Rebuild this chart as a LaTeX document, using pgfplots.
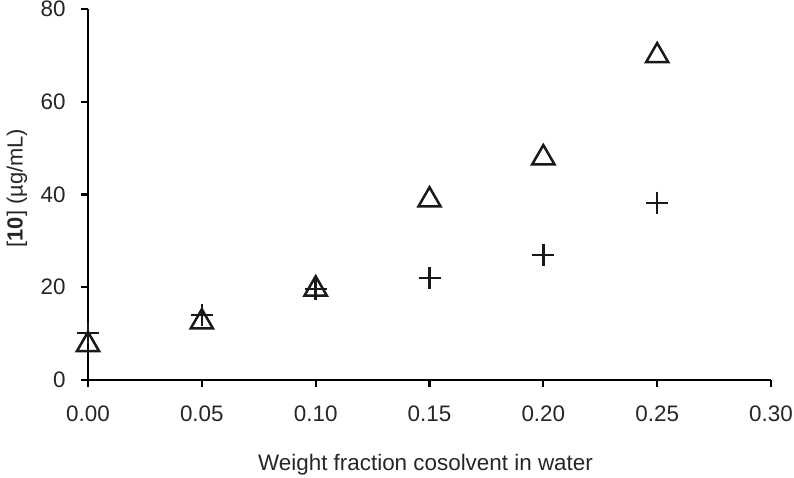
\documentclass[border=0pt]{standalone}
\usepackage{pgfplots}
\pgfplotsset{compat=1.18}
\usepackage{fontspec}
\setmainfont{Liberation Sans}
\begin{document}
\begin{tikzpicture}
\useasboundingbox (0,0) rectangle (794bp,478bp);
\begin{axis}[
  at={(88bp,98bp)}, anchor=origin,
  scale only axis,
  width=683bp, height=371bp,
  xmin=0, xmax=0.30, ymin=0, ymax=80,
  axis x line*=bottom, axis y line*=left,
  axis line style={line width=2.2bp, -},
  tick style={line width=2.2bp, black},
  tick align=outside,
  major tick length=7bp,
  xtick={0,0.05,0.10,0.15,0.20,0.25,0.30},
  ytick={0,20,...,80},
  x tick label style={/pgf/number format/fixed, /pgf/number format/fixed zerofill, /pgf/number format/precision=2},
  /pgf/number format/assume math mode=true,
  ticklabel style={font=\fontsize{22.5}{26}\selectfont, text=black!85},
  x tick label style={yshift=-15bp},
  y tick label style={xshift=-12bp},
  xlabel={Weight fraction cosolvent in water},
  ylabel={[\textbf{10}] (µg/mL)},
  label style={font=\fontsize{22.5}{26}\selectfont, text=black!85},
  xlabel style={at={(axis description cs:0.5,0)}, anchor=center, yshift=-85bp, xshift=-4bp},
  ylabel style={at={(axis description cs:-0.104,0.5175)}, anchor=center, font=\fontsize{22}{26}\selectfont},
  clip=false,
]
\addplot[only marks, mark=triangle, mark size=12.8bp, mark options={line width=2.5bp, draw=black!90, fill=white}]
  coordinates {(0,7.6) (0.05,12.5) (0.10,19.6) (0.15,38.8) (0.20,47.9) (0.25,69.9)};
\addplot[only marks, mark=+, mark size=11bp, mark options={line width=2.5bp, draw=black!90}]
  coordinates {(0,10.1) (0.05,14.0) (0.10,19.6) (0.15,22.0) (0.20,27.0) (0.25,38.2)};
\end{axis}
\end{tikzpicture}
\end{document}
